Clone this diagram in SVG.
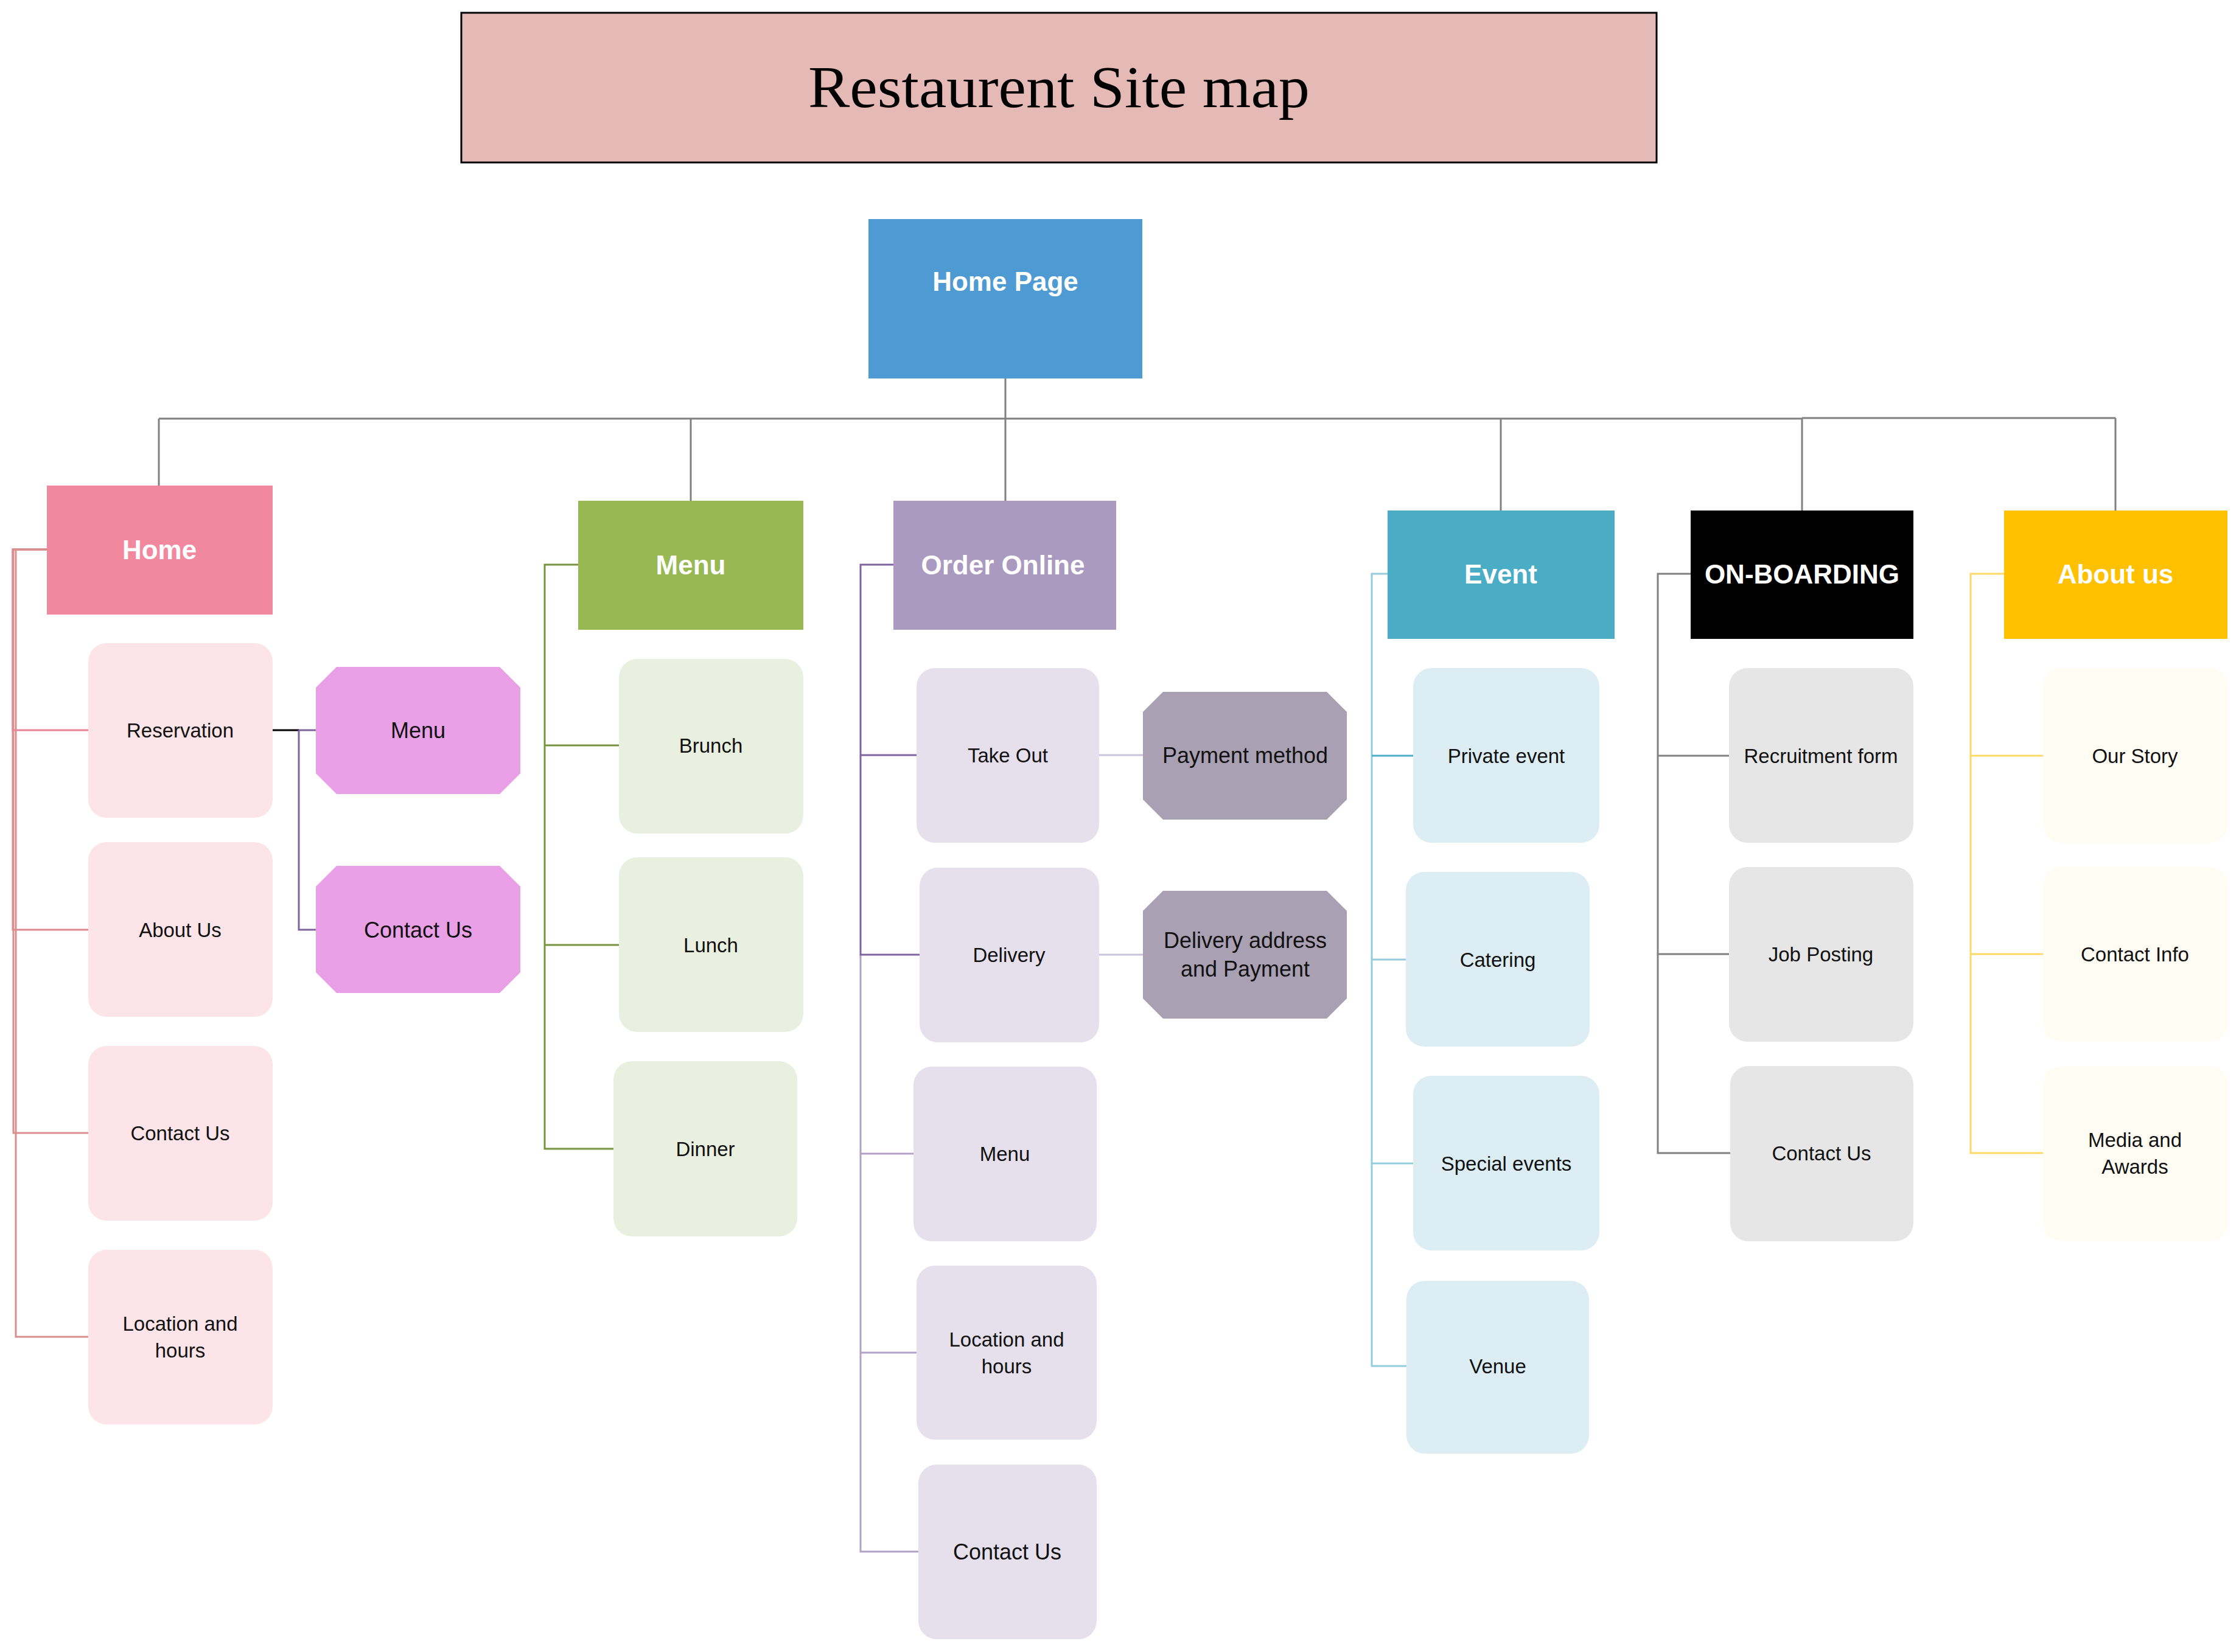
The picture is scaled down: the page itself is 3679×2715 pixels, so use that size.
<svg xmlns="http://www.w3.org/2000/svg" width="3679" height="2715" viewBox="0 0 3679 2715">
  <style>
    .lbl { font-family: "Liberation Sans", Arial, sans-serif; font-size: 33px; fill: #111; text-anchor: middle; dominant-baseline: central; }
    .oct { font-family: "Liberation Sans", Arial, sans-serif; font-size: 36px; fill: #111; text-anchor: middle; dominant-baseline: central; }
    .hdr { font-family: "Liberation Sans", Arial, sans-serif; font-size: 44px; font-weight: bold; fill: #fff; text-anchor: middle; dominant-baseline: central; }
    .ttl { font-family: "Liberation Serif", "Times New Roman", serif; font-size: 98px; fill: #000; text-anchor: middle; }
    .ln { fill: none; stroke-width: 3; }
    .home-c { fill: #FCE4E8; }
    .menu-c { fill: #EAF0DF; }
    .order-c { fill: #E5E0EC; }
    .event-c { fill: #DCEEF3; }
    .onb-c { fill: #E6E6E6; }
    .about-c { fill: #FFFCF4; }
  </style>

  <rect width="3679" height="2715" fill="#fff"/>

  <!-- connectors -->
  <g id="connectors">
    <!-- top bus -->
    <path class="ln" stroke="#808080" d="M1652,622 V688"/>
    <path class="ln" stroke="#808080" stroke-width="4" d="M261,688 H2961"/>
    <path class="ln" stroke="#808080" d="M2961,687 H3476"/>
    <path class="ln" stroke="#808080" d="M261,688 V798 M1135,688 V823 M1652,688 V823 M2466,688 V839 M2961,688 V839 M3476,687 V839"/>

    <!-- Home -->
    <path class="ln" stroke="#E8809A" d="M77,903 H21 V1200 H145"/>
    <path class="ln" stroke="#E0868F" d="M77,903 H21 V1528 H145"/>
    <path class="ln" stroke="#D98F8F" d="M77,903 H22 V1862 H145"/>
    <path class="ln" stroke="#D98F8F" d="M77,903 H26 V2197 H145"/>
    <path class="ln" stroke="#000" d="M448,1200 H491"/>
    <path class="ln" stroke="#8064A2" d="M491,1200 H519 M491,1200 V1528 H519"/>

    <!-- Menu -->
    <path class="ln" stroke="#77933C" d="M950,928 H895 V1225 H1017 M895,1225 V1553 H1017 M895,1553 V1888 H1008"/>

    <!-- Order Online -->
    <path class="ln" stroke="#B3A2C7" d="M1414,1569 V2550 H1509 M1414,1896 H1501 M1414,2223 H1506"/>
    <path class="ln" stroke="#8064A2" d="M1468,928 H1414 V1569 H1511 M1414,1241 H1506"/>
    <path class="ln" stroke="#CCC1DA" d="M1806,1241 H1878 M1806,1569 H1878"/>

    <!-- Event -->
    <path class="ln" stroke="#93CDDD" d="M2280,943 H2254 V2245 H2311 M2254,1577 H2310 M2254,1912 H2322"/>
    <path class="ln" stroke="#4BACC6" d="M2254,1242 H2322"/>

    <!-- ON-BOARDING -->
    <path class="ln" stroke="#808080" d="M2778,943 H2724 V1895 H2843 M2724,1242 H2841 M2724,1568 H2841"/>

    <!-- About us -->
    <path class="ln" stroke="#FFD966" d="M3293,943 H3238 V1895 H3357 M3238,1242 H3357 M3238,1568 H3357"/>
  </g>

  <!-- title -->
  <g id="title">
    <rect x="758" y="21" width="1964" height="246" fill="#E5B9B5" stroke="#000" stroke-width="3"/>
    <text class="ttl" x="1740" y="176" textLength="824" lengthAdjust="spacingAndGlyphs">Restaurent Site map</text>
  </g>

  <!-- root -->
  <g id="home-page">
    <rect x="1427" y="360" width="450" height="262" fill="#4E9BD3"/>
    <text class="hdr" x="1652" y="462">Home Page</text>
  </g>

  <!-- section headers -->
  <g id="home">
    <rect x="77" y="798" width="371" height="212" fill="#F2889E"/>
    <text class="hdr" x="262" y="903">Home</text>
  </g>
  <g id="menu">
    <rect x="950" y="823" width="370" height="212" fill="#97B853"/>
    <text class="hdr" x="1135" y="928">Menu</text>
  </g>
  <g id="order-online">
    <rect x="1468" y="823" width="366" height="212" fill="#AA9AC0"/>
    <text class="hdr" x="1648" y="928">Order Online</text>
  </g>
  <g id="event">
    <rect x="2280" y="839" width="373" height="211" fill="#4BACC6"/>
    <text class="hdr" x="2466" y="943">Event</text>
  </g>
  <g id="on-boarding">
    <rect x="2778" y="839" width="366" height="211" fill="#000"/>
    <text class="hdr" x="2961" y="943">ON-BOARDING</text>
  </g>
  <g id="about-us">
    <rect x="3293" y="839" width="367" height="211" fill="#FFC000"/>
    <text class="hdr" x="3476" y="943">About us</text>
  </g>

  <!-- Home children -->
  <g id="home-reservation">
    <rect class="home-c" x="145" y="1057" width="303" height="287" rx="30"/>
    <text class="lbl" x="296" y="1200">Reservation</text>
  </g>
  <g id="home-about">
    <rect class="home-c" x="145" y="1384" width="303" height="287" rx="30"/>
    <text class="lbl" x="296" y="1528">About Us</text>
  </g>
  <g id="home-contact">
    <rect class="home-c" x="145" y="1719" width="303" height="287" rx="30"/>
    <text class="lbl" x="296" y="1862">Contact Us</text>
  </g>
  <g id="home-location">
    <rect class="home-c" x="145" y="2054" width="303" height="287" rx="30"/>
    <text class="lbl" x="296" y="2175">Location and</text>
    <text class="lbl" x="296" y="2219">hours</text>
  </g>
  <g id="reservation-menu">
    <path d="M553,1096 H821 L855,1130 V1271 L821,1305 H553 L519,1271 V1130 Z" fill="#EAA0E6"/>
    <text class="oct" x="687" y="1200">Menu</text>
  </g>
  <g id="reservation-contact">
    <path d="M553,1423 H821 L855,1457 V1598 L821,1632 H553 L519,1598 V1457 Z" fill="#EAA0E6"/>
    <text class="oct" x="687" y="1528">Contact Us</text>
  </g>

  <!-- Menu children -->
  <g id="menu-brunch">
    <rect class="menu-c" x="1017" y="1083" width="303" height="287" rx="30"/>
    <text class="lbl" x="1168" y="1225">Brunch</text>
  </g>
  <g id="menu-lunch">
    <rect class="menu-c" x="1017" y="1409" width="303" height="287" rx="30"/>
    <text class="lbl" x="1168" y="1553">Lunch</text>
  </g>
  <g id="menu-dinner">
    <rect class="menu-c" x="1008" y="1744" width="302" height="288" rx="30"/>
    <text class="lbl" x="1159" y="1888">Dinner</text>
  </g>

  <!-- Order Online children -->
  <g id="order-takeout">
    <rect class="order-c" x="1506" y="1098" width="300" height="287" rx="30"/>
    <text class="lbl" x="1656" y="1241">Take Out</text>
  </g>
  <g id="order-delivery">
    <rect class="order-c" x="1511" y="1426" width="295" height="287" rx="30"/>
    <text class="lbl" x="1658" y="1569">Delivery</text>
  </g>
  <g id="order-menu">
    <rect class="order-c" x="1501" y="1753" width="301" height="287" rx="30"/>
    <text class="lbl" x="1651" y="1896">Menu</text>
  </g>
  <g id="order-location">
    <rect class="order-c" x="1506" y="2080" width="296" height="286" rx="30"/>
    <text class="lbl" x="1654" y="2201">Location and</text>
    <text class="lbl" x="1654" y="2245">hours</text>
  </g>
  <g id="order-contact">
    <rect class="order-c" x="1509" y="2407" width="293" height="287" rx="30"/>
    <text class="oct" x="1655" y="2550">Contact Us</text>
  </g>
  <g id="payment-method">
    <path d="M1911,1137 H2180 L2213,1170 V1314 L2180,1347 H1911 L1878,1314 V1170 Z" fill="#A9A0B4"/>
    <text class="oct" x="2046" y="1241">Payment method</text>
  </g>
  <g id="delivery-payment">
    <path d="M1911,1464 H2180 L2213,1497 V1641 L2180,1674 H1911 L1878,1641 V1497 Z" fill="#A9A0B4"/>
    <text class="oct" x="2046" y="1545">Delivery address</text>
    <text class="oct" x="2046" y="1592">and Payment</text>
  </g>

  <!-- Event children -->
  <g id="event-private">
    <rect class="event-c" x="2322" y="1098" width="306" height="287" rx="30"/>
    <text class="lbl" x="2475" y="1242">Private event</text>
  </g>
  <g id="event-catering">
    <rect class="event-c" x="2310" y="1433" width="302" height="287" rx="30"/>
    <text class="lbl" x="2461" y="1577">Catering</text>
  </g>
  <g id="event-special">
    <rect class="event-c" x="2322" y="1768" width="306" height="287" rx="30"/>
    <text class="lbl" x="2475" y="1912">Special events</text>
  </g>
  <g id="event-venue">
    <rect class="event-c" x="2311" y="2105" width="300" height="284" rx="30"/>
    <text class="lbl" x="2461" y="2245">Venue</text>
  </g>

  <!-- ON-BOARDING children -->
  <g id="onb-recruitment">
    <rect class="onb-c" x="2841" y="1098" width="303" height="287" rx="30"/>
    <text class="lbl" x="2992" y="1242">Recruitment form</text>
  </g>
  <g id="onb-jobs">
    <rect class="onb-c" x="2841" y="1425" width="303" height="287" rx="30"/>
    <text class="lbl" x="2992" y="1568">Job Posting</text>
  </g>
  <g id="onb-contact">
    <rect class="onb-c" x="2843" y="1752" width="301" height="288" rx="30"/>
    <text class="lbl" x="2993" y="1895">Contact Us</text>
  </g>

  <!-- About us children -->
  <g id="about-story">
    <rect class="about-c" x="3357" y="1098" width="303" height="287" rx="30"/>
    <text class="lbl" x="3508" y="1242">Our Story</text>
  </g>
  <g id="about-contact">
    <rect class="about-c" x="3357" y="1425" width="303" height="287" rx="30"/>
    <text class="lbl" x="3508" y="1568">Contact Info</text>
  </g>
  <g id="about-media">
    <rect class="about-c" x="3357" y="1752" width="303" height="288" rx="30"/>
    <text class="lbl" x="3508" y="1873">Media and</text>
    <text class="lbl" x="3508" y="1917">Awards</text>
  </g>
</svg>
